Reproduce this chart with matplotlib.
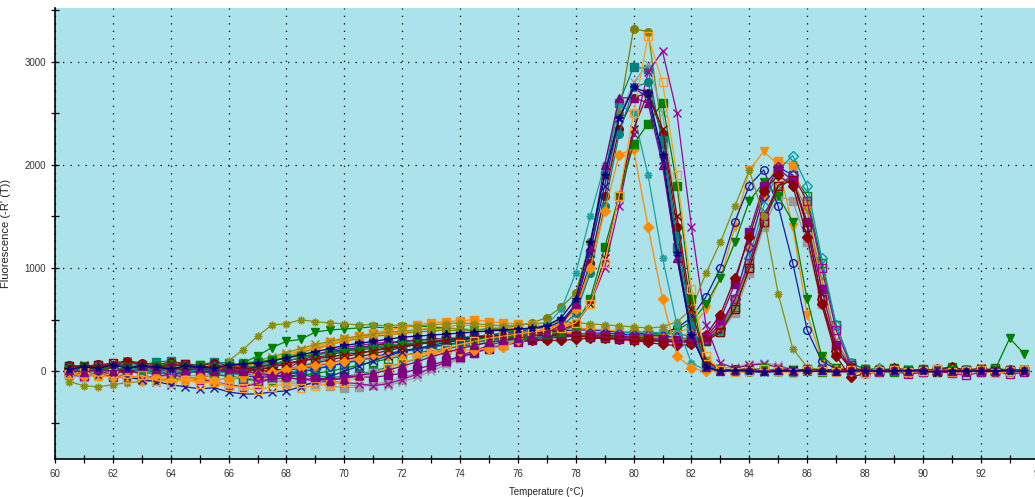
import matplotlib
matplotlib.use("Agg")
import matplotlib.pyplot as plt
from matplotlib.ticker import MultipleLocator

# Temperature grid (°C)
temps = [60.5, 61.0, 61.5, 62.0, 62.5, 63.0, 63.5, 64.0, 64.5, 65.0, 65.5, 66.0,
         66.5, 67.0, 67.5, 68.0, 68.5, 69.0, 69.5, 70.0, 70.5, 71.0, 71.5, 72.0,
         72.5, 73.0, 73.5, 74.0, 74.5, 75.0, 75.5, 76.0, 76.5, 77.0,
         77.5, 78.0, 78.5, 79.0, 79.5, 80.0, 80.5, 81.0, 81.5, 82.0, 82.5,
         83.0, 83.5, 84.0, 84.5, 85.0, 85.5, 86.0, 86.5, 87.0, 87.5,
         88.0, 88.5, 89.0, 89.5, 90.0, 90.5, 91.0, 91.5, 92.0, 92.5, 93.0, 93.5]

# -R'(T) series, one per well
olive_circle = [30, 0, -40, -20, 10, -30, 0, -50, -20, 10, -30, 0,
                20, 60, 90, 140, 180, 220, 260, 290, 320, 340, 350, 370,
                380, 390, 400, 390, 400, 410, 420, 440, 470, 520,
                620, 760, 1250, 1900, 2500, 3320, 3290, 2300, 1200, 350, 40,
                10, 0, -10, 5, 0, -5, 10, 0, -10, 5, 0, 10, -5, 0, 5, -10, 0, 10, 5, -5, 0, 10]
teal_square = [50, 30, 60, 40, 80, 60, 90, 100, 70, 60, 90, 80,
               60, 40, 20, 0, -20, -40, -60, -50, -30, 0, 40, 80,
               120, 170, 210, 250, 280, 300, 320, 340, 360, 390,
               480, 650, 1150, 1900, 2600, 2950, 2930, 2200, 1200, 400, 60,
               20, 10, 0, 15, 5, -5, 10, 20, 0, 10, -5, 5, 15, 0, 10, 5, -10, 0, 10, 20, 5, 0]
gray_x = [0, -30, -10, -50, -20, 0, -40, -60, -30, -50, -20, -40,
          -60, -80, -100, -90, -110, -120, -100, -130, -140, -120, -140, -100,
          -60, 0, 60, 120, 180, 230, 270, 300, 330, 360,
          430, 560, 1000, 1700, 2450, 2800, 2980, 2500, 1500, 500, 80,
          30, 40, 70, 80, 60, 20, 0, 10, -5, 0, 10, 5, 0, -10, 5, 0, 10, 0, -5, 5, 0, 10]
navy_star = [20, 40, 30, 60, 30, 50, 40, 20, 50, 40, 30, 60,
             70, 80, 100, 130, 160, 190, 220, 250, 270, 290, 310, 330,
             340, 350, 360, 370, 380, 390, 400, 410, 420, 440,
             520, 700, 1250, 1900, 2450, 2750, 2700, 2100, 1150, 350, 40,
             0, 5, 0, -5, 0, 5, 0, 0, -5, 0, 5, 0, 0, 5, 0, -5, 0, 5, 0, 0, 5, 0]
darkred_circle = [60, 40, 70, 50, 100, 80, 60, 90, 70, 50, 80, 60,
                  40, 30, 20, 10, 30, 50, 80, 110, 140, 170, 200, 230,
                  260, 280, 300, 310, 320, 330, 340, 360, 380, 410,
                  470, 620, 1050, 1700, 2350, 2650, 2700, 2300, 1400, 500, 60,
                  10, 20, 0, 10, 5, 15, 0, 10, 20, 5, 0, 10, 15, 5, 0, 10, 5, 0, 10, 5, 15, 0]
purple_x = [-20, 10, 0, 30, 0, 20, -10, 10, 30, 0, 20, 10,
            0, -20, -40, -60, -80, -90, -100, -110, -120, -140, -120, -80,
            -30, 30, 90, 150, 200, 250, 290, 320, 350, 380,
            420, 480, 650, 1000, 1600, 2300, 2900, 3100, 2500, 1400, 450,
            80, 30, 60, 70, 40, 20, 10, 20, 0, 10, 20, 0, 10, 20, 5, 10, 0, 15, 5, 10, 0, 5]
orange_tri = [-40, -20, -60, -30, -70, -50, -90, -60, -100, -80, -120, -140,
              -150, -100, -40, 40, 120, 200, 260, 300, 330, 350, 370, 380,
              400, 420, 430, 450, 440, 430, 420, 410, 400, 390,
              380, 370, 360, 350, 340, 330, 320, 330, 380, 420, 600,
              900, 1400, 1950, 2130, 2000, 1400, 550, 120, 30, 10,
              0, 10, -5, 5, 0, 10, 0, -5, 5, 10, 0, 5]
navy_ocircle = [10, 30, 0, 20, -10, 10, 30, 0, 20, 10, -10, 0,
                20, 40, 70, 100, 130, 160, 190, 210, 230, 250, 270, 290,
                300, 310, 320, 330, 340, 350, 360, 370, 380, 390,
                390, 400, 400, 390, 380, 370, 360, 370, 420, 520, 720,
                1000, 1450, 1800, 1950, 1600, 1050, 400, 100, 20, 0,
                5, 0, 10, 0, -5, 5, 0, 10, 0, 5, 0, -5]
green_tri = [0, -20, 10, -10, 20, 0, -30, 10, -20, 0, 20, 40,
             80, 150, 230, 290, 310, 380, 400, 410, 420, 430, 420, 430,
             440, 430, 420, 410, 400, 410, 400, 390, 380, 370,
             360, 350, 340, 330, 320, 330, 340, 360, 400, 480, 650,
             900, 1250, 1650, 1830, 1700, 1450, 700, 150, 30, 0,
             -10, 0, 10, -5, 0, 5, 10, 0, 5, 20, 320, 170]
orange_square = [20, 0, 40, 10, -20, 30, 0, -10, 20, 40, 10, 30,
                 50, 80, 120, 160, 200, 240, 280, 310, 340, 370, 400, 420,
                 450, 470, 480, 490, 500, 480, 470, 460, 450, 440,
                 430, 420, 410, 400, 390, 380, 380, 370, 360, 350, 330,
                 450, 700, 1200, 1700, 2040, 2000, 1600, 800, 200, 40,
                 10, 20, 0, 10, -10, 0, 15, 5, -5, 10, 0, 5]
teal_odiamond = [40, 20, 50, 30, 10, 40, 60, 30, 50, 20, 40, 30,
                 10, 0, -20, -10, 10, 30, 50, 80, 100, 130, 160, 190,
                 210, 230, 250, 270, 290, 300, 310, 320, 330, 340,
                 350, 350, 360, 360, 370, 380, 380, 370, 360, 340, 320,
                 400, 650, 1100, 1600, 1950, 2090, 1800, 1100, 450, 80,
                 20, 30, 10, 0, 20, 10, 30, 0, 10, 20, 10, 0]
blue_odiamond = [-20, 0, 30, 10, -10, 20, 0, -30, -10, 10, -20, 0,
                 -40, -60, -50, -30, -10, 20, 50, 80, 110, 140, 170, 200,
                 220, 240, 260, 280, 300, 310, 320, 330, 340, 350,
                 350, 360, 370, 370, 360, 350, 350, 340, 330, 310, 300,
                 420, 700, 1200, 1700, 1980, 1900, 1400, 700, 200, 40,
                 0, 10, 0, -10, 5, 0, 10, 0, 5, -5, 0, 10]
purple_square = [-10, 20, 0, -30, 10, -20, 0, 30, 10, -10, 20, 0,
                 -20, -40, -30, -60, -80, -70, -90, -60, -50, -60, -40, -20,
                 20, 60, 100, 140, 180, 220, 250, 280, 300, 320,
                 330, 340, 350, 350, 340, 330, 320, 310, 300, 300, 330,
                 500, 850, 1350, 1800, 1960, 1850, 1450, 800, 250, 40,
                 -10, 0, 10, -10, 0, 5, -5, 10, 0, -10, 5, 0]
darkred_diamond = [30, 10, 40, 20, 0, 30, 50, 20, 40, 10, 30, 20,
                   0, 20, 40, 70, 100, 130, 160, 190, 220, 250, 270, 290,
                   300, 310, 320, 320, 330, 330, 320, 310, 300, 300,
                   300, 310, 320, 320, 310, 300, 280, 260, 250, 260, 350,
                   550, 900, 1300, 1750, 1900, 1800, 1300, 650, 150, -60,
                   -20, 0, 30, 10, 0, 20, 40, 10, 0, 20, 10, 0]
purple_osquare = [-30, -50, -20, -60, -40, -70, -50, -30, -60, -80, -100, -130,
                  -150, -120, -60, 20, 100, 160, 200, 230, 250, 270, 280, 290,
                  300, 310, 320, 330, 330, 340, 340, 350, 350, 360,
                  360, 350, 340, 330, 320, 310, 300, 290, 280, 290, 320,
                  450, 700, 1050, 1500, 1800, 1900, 1650, 1000, 400, 60,
                  -20, -10, 0, -30, -10, 0, -20, -40, -10, 0, -30, -10]
darkred_osquare = [50, 30, 60, 80, 40, 60, 30, 50, 70, 40, 20, 50,
                   30, 10, 0, 20, 50, 80, 110, 140, 170, 200, 230, 250,
                   270, 290, 300, 310, 320, 330, 340, 340, 350, 350,
                   350, 340, 330, 320, 310, 300, 300, 290, 290, 280, 290,
                   380, 600, 1000, 1450, 1800, 1850, 1400, 700, 200, 30,
                   0, 10, 20, 0, 10, -10, 0, 10, 20, 0, 10, 0]
olive_asterisk = [-100, -140, -150, -130, -110, -100, -90, -80, -70, -60, -40, 100,
                  210, 340, 450, 460, 500, 480, 470, 460, 450, 450, 440, 450,
                  440, 450, 460, 470, 460, 450, 440, 450, 460, 470,
                  480, 470, 460, 450, 440, 430, 420, 430, 480, 600, 950,
                  1250, 1600, 1950, 1500, 750, 220, 40, 10, 0, -10,
                  0, 10, -10, 0, 5, -5, 0, 10, 0, -10, 0, 5]
teal_asterisk = [0, 20, -10, 10, 30, 0, -20, 10, -10, 20, 0, -20,
                 -40, -30, -10, 20, 50, 90, 130, 170, 200, 230, 250, 270,
                 290, 300, 320, 330, 340, 350, 360, 380, 400, 450,
                 600, 950, 1500, 2000, 2580, 2500, 1900, 1100, 450, 80, 10,
                 0, 10, 0, -10, 0, 10, 5, 0, -5, 10, 0, 5, 0, -5, 10, 0, 5, 0, 10, 0, -5, 5]
orange_diamond = [-20, -50, -30, -60, -40, -80, -60, -100, -80, -60, -90, -70,
                  -50, -30, -10, 20, 40, 60, 80, 100, 120, 140, 150, 160,
                  170, 180, 190, 200, 210, 220, 240, 300, 360, 420,
                  460, 600, 1000, 1550, 2100, 2150, 1400, 700, 150, 30, 0,
                  10, 0, 20, 10, 0, 10, 20, 0, 10, 0, 20, 10, 0, 10, 20, 0, 10, 0, 20, 10, 0, 10]
green_square = [30, 50, 20, 40, 60, 30, 50, 70, 40, 60, 30, 50,
                70, 90, 110, 130, 150, 160, 180, 200, 210, 220, 240, 260,
                270, 280, 290, 300, 310, 320, 330, 340, 350, 360,
                380, 450, 700, 1200, 1700, 2200, 2400, 2600, 1800, 700, 100,
                20, 0, 10, 30, 0, 10, 20, -10, 0, 10, 20, 0, -10, 10, 20, 0, 10, 0, 20, 10, 0, 10]
navy_x = [-20, -10, -40, -30, -60, -80, -100, -130, -150, -170, -160, -200,
          -220, -220, -200, -190, -150, -100, -50, 0, 50, 100, 150, 190,
          220, 250, 280, 300, 330, 350, 370, 390, 410, 430,
          480, 650, 1150, 1800, 2450, 2750, 2650, 2050, 1100, 350, 40,
          0, 10, 0, -10, 0, 10, 0, 5, 0, -5, 0, 10, 0, 5, 0, -5, 0, 10, 0, 5, 0, 0]
darkred_x = [40, 60, 30, 80, 100, 60, 40, 70, 50, 30, 60, 40,
             20, 40, 60, 80, 100, 120, 140, 160, 180, 200, 220, 240,
             260, 280, 300, 320, 330, 340, 350, 360, 370, 380,
             400, 460, 650, 1100, 1700, 2350, 2700, 2350, 1500, 600, 100,
             20, 10, 30, 0, 20, 10, 0, 20, 10, 30, 0, 10, 20, 0, 10, 20, 0, 10, 30, 10, 0, 20]
orange_osquare = [-30, 0, -50, -20, -70, -40, -90, -110, -80, -120, -100, -140,
                  -160, -180, -150, -120, -160, -140, -120, -100, -60, -20, 30, 80,
                  130, 180, 220, 260, 290, 320, 340, 360, 380, 400,
                  420, 470, 650, 1050, 1700, 2500, 3250, 2800, 1900, 800, 150,
                  10, -10, 0, 20, 0, -20, 10, 0, -10, 10, -20, 0, 10, -10, 0, 20, -10, 0, 10, -20, 0, 10]
purple_tri = [10, -10, 20, 0, 30, 50, 20, 40, 10, 30, 0, 20,
              0, -20, -40, -50, -30, -60, -80, -70, -40, -20, 10, 50,
              90, 140, 180, 220, 250, 280, 300, 320, 340, 370,
              450, 650, 1200, 2000, 2650, 2650, 2600, 2000, 1100, 350, 40,
              0, 10, 20, 0, 10, 0, 20, 10, 0, 10, 20, 0, 10, 0, 20, 10, 0, -10, 10, 0, 20, 10]
green_osquare = [0, 20, -10, 10, -20, 0, 20, -10, 0, 10, -30, -50,
                 -70, -90, -80, -60, -40, -20, 0, 30, 60, 90, 120, 150,
                 180, 200, 220, 240, 260, 280, 300, 310, 320, 330,
                 340, 340, 350, 340, 330, 320, 310, 300, 290, 280, 300,
                 400, 620, 1000, 1450, 1750, 1900, 1700, 1050, 450, 80,
                 20, 0, 30, 10, 0, 20, 40, 10, 0, 30, 10, 0]
gray_square = [-40, -60, -30, -50, -70, -40, -60, -80, -50, -70, -90, -60,
               -80, -100, -90, -110, -130, -120, -140, -160, -150, -130, -100, -60,
               -20, 30, 80, 130, 180, 220, 260, 290, 310, 330,
               340, 350, 350, 340, 330, 320, 310, 300, 290, 280, 290,
               380, 560, 950, 1400, 1700, 1650, 1250, 650, 200, 40,
               0, -10, 10, 0, -10, 5, 0, 10, -5, 0, 10, 0]
teal_circle = [20, 0, 30, 10, 40, 20, 0, 30, 10, 40, 20, 10,
               30, 50, 70, 100, 130, 160, 180, 200, 220, 240, 250, 260,
               270, 280, 290, 300, 310, 320, 330, 340, 360, 380,
               430, 560, 950, 1600, 2300, 2750, 2800, 2250, 1300, 450, 60,
               10, 0, 20, 10, 0, 10, 0, 20, 10, 0, 10, 0, 20, 10, 0, 10, 0, 20, 10, 0, 10, 0]
olive_x = [10, -10, 20, 0, -20, 10, 30, 0, 20, 10, 40, 60,
           80, 100, 140, 180, 220, 260, 290, 320, 340, 360, 380, 390,
           400, 410, 420, 410, 400, 400, 390, 380, 380, 370,
           370, 360, 360, 350, 350, 340, 340, 330, 320, 310, 320,
           420, 640, 1050, 1500, 1800, 1850, 1550, 900, 300, 50,
           0, 10, 0, -10, 0, 10, 5, 0, -5, 10, 0, 5]

series = [
    (olive_circle,   "#808000", "o", True),
    (teal_square,    "#008080", "s", True),
    (gray_x,         "#9A9A9A", "x", True),
    (gray_square,    "#9A9A9A", "s", True),
    (darkred_circle, "#8B0000", "o", True),
    (purple_x,       "#A000A0", "x", True),
    (orange_tri,     "#FF8C00", "v", True),
    (navy_ocircle,   "#1A1AA0", "o", False),
    (green_tri,      "#008000", "v", True),
    (green_osquare,  "#008000", "s", False),
    (orange_square,  "#FF8C00", "s", True),
    (teal_odiamond,  "#00A0A0", "D", False),
    (blue_odiamond,  "#2020D0", "D", False),
    (olive_x,        "#8C8C10", "x", True),
    (purple_square,  "#800080", "s", True),
    (darkred_diamond, "#8B0000", "D", True),
    (purple_osquare, "#A000A0", "s", False),
    (darkred_osquare, "#8B0000", "s", False),
    (olive_asterisk, "#8C8C10", (8, 2, 0), True),
    (teal_asterisk,  "#20A0A0", (8, 2, 0), True),
    (teal_circle,    "#008080", "o", True),
    (orange_diamond, "#FF8C00", "D", True),
    (green_square,   "#008000", "s", True),
    (navy_x,         "#1A1AA0", "x", True),
    (darkred_x,      "#8B0000", "x", True),
    (orange_osquare, "#FFA020", "s", False),
    (purple_tri,     "#800080", "^", True),
    (navy_star,      "#000080", "*", True),
]

W, H = 1035, 497
fig = plt.figure(figsize=(W / 100, H / 100), dpi=100)
fig.patch.set_facecolor("white")
x0, x1 = 55, 1038.6
y_top, y_bot = 8, 459
ax = fig.add_axes([x0 / W, (H - y_bot) / H, (x1 - x0) / W, (y_bot - y_top) / H])
ax.set_facecolor("#ACE2E9")

for vals, col, mk, filled in series:
    ax.plot(temps, vals, color=col, lw=0.9, marker=mk, markersize=5.5,
            markerfacecolor=col if filled else "none", markeredgecolor=col,
            markeredgewidth=1.0, zorder=3)

ax.set_xlim(60, 94)
ax.set_ylim(-850, 3520)
ax.xaxis.set_major_locator(MultipleLocator(2))
ax.xaxis.set_minor_locator(MultipleLocator(1))
ax.yaxis.set_major_locator(MultipleLocator(1000))
ax.yaxis.set_minor_locator(MultipleLocator(500))
ax.grid(True, which="major", color="black", linestyle=(0, (1, 5)), linewidth=0.9)

for s in ("top", "right"):
    ax.spines[s].set_visible(False)
for s in ("left", "bottom"):
    ax.spines[s].set_color("black")
    ax.spines[s].set_linewidth(1.2)

ax.tick_params(which="both", direction="inout", length=6, width=0.9, colors="black",
               labelsize=7, labelcolor="#333333")
ax.tick_params(axis="x", pad=4)
ax.set_xlabel("Temperature (°C)", fontsize=7, color="#222222", labelpad=6,
              fontfamily="Liberation Sans")
ax.set_ylabel("Fluorescence (-R' (T))", fontsize=8, color="#222222", labelpad=10,
              fontfamily="Liberation Sans")
for lab in ax.get_xticklabels() + ax.get_yticklabels():
    lab.set_fontfamily("Liberation Sans")

fig.savefig("out.png", dpi=100)
